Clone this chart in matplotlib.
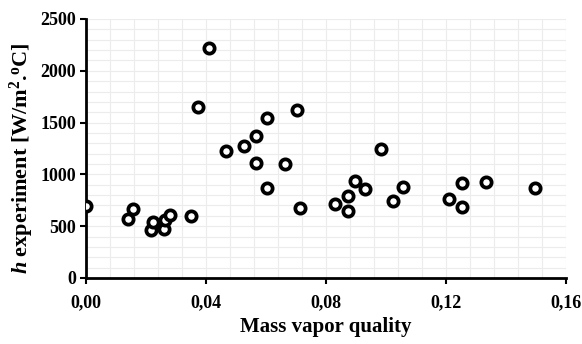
import matplotlib
matplotlib.use('Agg')
import matplotlib.pyplot as plt
import matplotlib.ticker as plticker
import numpy as np

# ------ data
quality = [0.0, 0.0141, 0.0158, 0.0217, 0.0224, 0.0261, 0.0263, 0.0280, 0.0350,
           0.0373, 0.0410, 0.0466, 0.0528, 0.0567, 0.0567, 0.0602, 0.0604, 0.0664,
           0.0702, 0.0713, 0.0830, 0.0872, 0.0872, 0.0897, 0.0930, 0.0982, 0.1024,
           0.1057, 0.1211, 0.1252, 0.1252, 0.1333, 0.1497]
h_exp = [695, 570, 663, 463, 540, 473, 560, 608, 598,
         1654, 2223, 1226, 1274, 1371, 1113, 1541, 866, 1097,
         1622, 679, 717, 791, 650, 936, 856, 1245, 743,
         881, 760, 914, 688, 930, 872]

x_ticks = [0.0, 0.04, 0.08, 0.12, 0.16]
x_tick_labels = ['0,00', '0,04', '0,08', '0,12', '0,16']
y_ticks = [0, 500, 1000, 1500, 2000, 2500]

# ------ fonts
plt.rcParams['font.family'] = ['Liberation Serif', 'DejaVu Serif']
plt.rcParams['font.weight'] = 'bold'
plt.rcParams['mathtext.fontset'] = 'custom'
plt.rcParams['mathtext.it'] = 'Liberation Serif:italic:bold'
plt.rcParams['mathtext.rm'] = 'Liberation Serif:bold'

fig = plt.figure(figsize=(5.82, 3.44), dpi=100)
ax = fig.add_axes([0.1478, 0.1919, 0.9725 - 0.1478, 0.9448 - 0.1919])

ax.plot(quality, h_exp, linestyle='none', marker='o', ms=7.4, mew=2.7,
        mec='black', mfc='white', zorder=3)

ax.set_xlim(0, 0.16)
ax.set_ylim(0, 2500)
ax.set_xticks(x_ticks)
ax.set_xticklabels(x_tick_labels)
ax.set_yticks(y_ticks)
ax.xaxis.set_minor_locator(plticker.MultipleLocator(0.008))
ax.yaxis.set_minor_locator(plticker.MultipleLocator(100))

ax.grid(which='both', color='#ececec', linewidth=0.8, zorder=0)
ax.set_axisbelow(True)

for s in ['top', 'right']:
    ax.spines[s].set_visible(False)
for s in ['left', 'bottom']:
    ax.spines[s].set_linewidth(2)

ax.tick_params(which='major', direction='out', length=4, width=1.5, labelsize=13, pad=3)
ax.tick_params(axis='x', which='major', pad=8)
ax.tick_params(which='minor', length=0)
for lab in ax.get_xticklabels() + ax.get_yticklabels():
    lab.set_fontweight('bold')

ax.set_xlabel('Mass vapor quality', fontsize=15, fontweight='bold', labelpad=4)
ax.set_ylabel(r'$\mathit{h}$ experiment [W/m$^{2}$.$^{\rm o}$C]', fontsize=16,
              fontweight='bold')
ax.yaxis.set_label_coords(-0.105, 0.463)

fig.savefig('out.png', dpi=100)
